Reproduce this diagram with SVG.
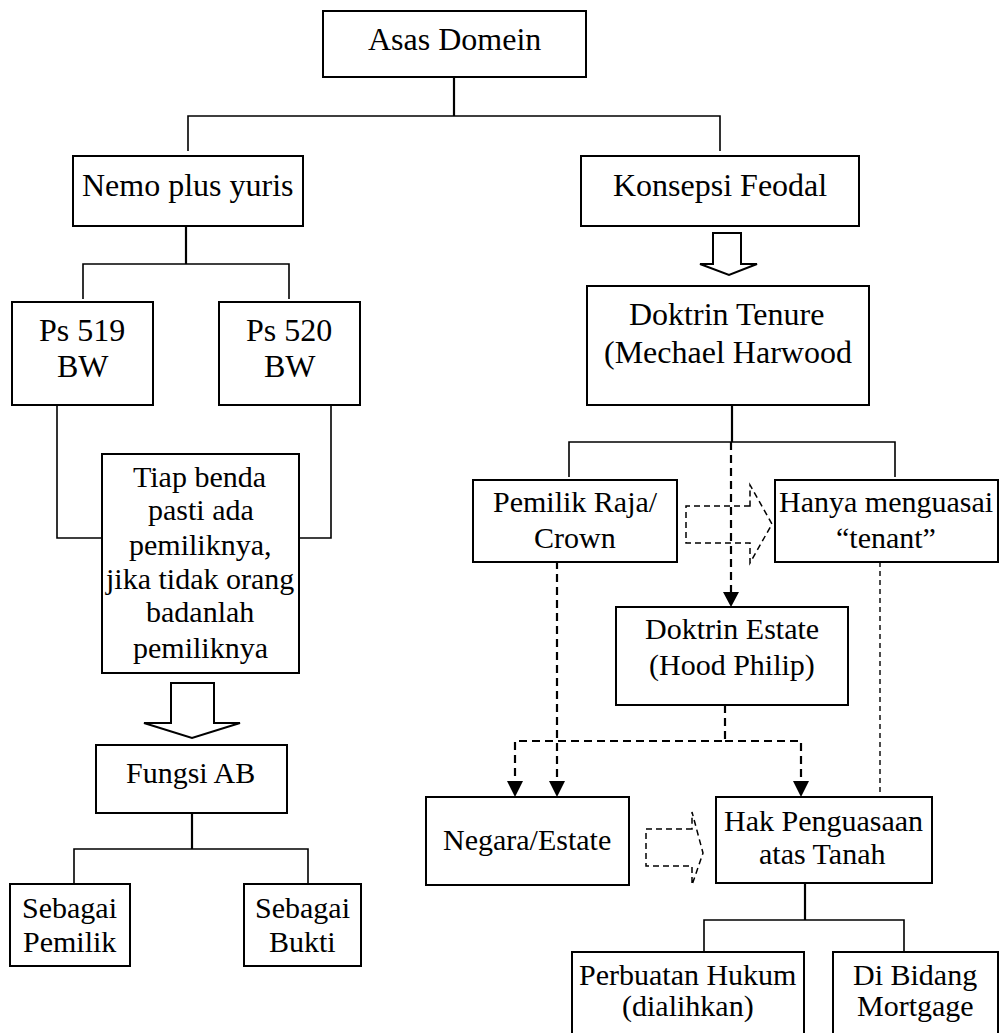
<svg xmlns="http://www.w3.org/2000/svg" width="999" height="1033" viewBox="0 0 999 1033">
<rect width="999" height="1033" fill="#fff"/>
<g id="connectors" fill="none" stroke="#000">
<g stroke-width="2.2">
<path d="M454 77V116"/>
<path d="M186 226V264"/>
<path d="M192 813V849"/>
<path d="M732 405V442"/>
<path d="M805 883V920"/>
</g>
<g stroke-width="1.6">
<path d="M188 151V116H720V151"/>
<path d="M83 299V264H289V299"/>
<path d="M57 405V538H102"/>
<path d="M331 405V538H299"/>
<path d="M74 884V849H308V884"/>
<path d="M569 477V442H895V477"/>
<path d="M704 951V920H904V951"/>
</g>
<g fill="#fff" stroke-width="2">
<path d="M171 683H214V723H240L192 738L144 723H171Z"/>
<path d="M713 233H741V264H757L729 275L700 264H713Z"/>
</g>
<g stroke-width="2.2" stroke-dasharray="8 5">
<path d="M731 442V594"/>
<path d="M557 522V782"/>
<path d="M725 705V741H515V782"/>
<path d="M725 741H801V782"/>
</g>
<g fill="#000" stroke="none">
<path d="M723 592H739L731 607Z"/>
<path d="M549 781H565L557 797Z"/>
<path d="M507 781H523L515 797Z"/>
<path d="M793 781H809L801 797Z"/>
</g>
<path stroke-width="1.4" stroke-dasharray="5 4" d="M880 562V797"/>
<g stroke-width="1.5" stroke-dasharray="6 4">
<path d="M750 506H686V543H750V563L772 524L750 485Z"/>
<path d="M692 829H646V866H692V885L703 853L692 812Z"/>
</g>
</g>
<g id="boxes" fill="#fff" stroke="#000" stroke-width="2">
<rect x="323" y="11" width="263" height="66"/>
<rect x="73" y="156" width="230" height="70"/>
<rect x="581" y="156" width="278" height="70"/>
<rect x="12" y="302" width="141" height="103"/>
<rect x="219" y="302" width="141" height="103"/>
<rect x="587" y="286" width="282" height="119"/>
<rect x="102" y="454" width="197" height="219"/>
<rect x="473" y="480" width="204" height="82"/>
<rect x="775" y="480" width="223" height="82"/>
<rect x="616" y="607" width="232" height="98"/>
<rect x="96" y="745" width="191" height="68"/>
<rect x="10" y="884" width="120" height="82"/>
<rect x="244" y="884" width="117" height="82"/>
<rect x="426" y="797" width="203" height="88"/>
<rect x="716" y="797" width="216" height="86"/>
<rect x="572" y="952" width="232" height="90"/>
<rect x="833" y="952" width="165" height="90"/>
</g>
<g id="labels-large" font-size="32" fill="#000">
<g id="asas-domein"><text font-family="Liberation Serif" x="368" y="50">Asas Domein</text></g>
<g id="nemo"><text font-family="Liberation Serif" x="82" y="196">Nemo plus yuris</text></g>
<g id="konsepsi"><text font-family="Liberation Serif" x="613" y="196">Konsepsi Feodal</text></g>
<g id="ps519"><text font-family="Liberation Serif" x="39" y="341">Ps 519</text><text font-family="Liberation Serif" x="57" y="377">BW</text></g>
<g id="ps520"><text font-family="Liberation Serif" x="246" y="341">Ps 520</text><text font-family="Liberation Serif" x="264" y="377">BW</text></g>
<g id="tenure"><text font-family="Liberation Serif" x="629" y="325">Doktrin Tenure</text><text font-family="Liberation Serif" x="604" y="363">(Mechael Harwood</text></g>
</g>
<g id="labels" font-size="30" fill="#000">
<g id="tiap">
<text font-family="Liberation Serif" x="133" y="487">Tiap benda</text>
<text font-family="Liberation Serif" x="148" y="520">pasti ada</text>
<text font-family="Liberation Serif" x="129" y="555">pemiliknya,</text>
<text font-family="Liberation Serif" x="106" y="589">jika tidak orang</text>
<text font-family="Liberation Serif" x="146" y="622">badanlah</text>
<text font-family="Liberation Serif" x="133" y="658">pemiliknya</text></g>
<g id="pemilik-raja"><text font-family="Liberation Serif" x="493" y="512">Pemilik Raja/</text><text font-family="Liberation Serif" x="534" y="548">Crown</text></g>
<g id="hanya"><text font-family="Liberation Serif" x="779" y="512">Hanya menguasai</text><text font-family="Liberation Serif" x="836" y="548">“tenant”</text></g>
<g id="estate"><text font-family="Liberation Serif" x="645" y="639">Doktrin Estate</text><text font-family="Liberation Serif" x="649" y="675">(Hood Philip)</text></g>
<g id="fungsi"><text font-family="Liberation Serif" x="126" y="783">Fungsi AB</text></g>
<g id="sebagai-pemilik"><text font-family="Liberation Serif" x="22" y="918">Sebagai</text><text font-family="Liberation Serif" x="23" y="952">Pemilik</text></g>
<g id="sebagai-bukti"><text font-family="Liberation Serif" x="255" y="918">Sebagai</text><text font-family="Liberation Serif" x="269" y="952">Bukti</text></g>
<g id="negara"><text font-family="Liberation Serif" x="443" y="850">Negara/Estate</text></g>
<g id="hak"><text font-family="Liberation Serif" x="724" y="831">Hak Penguasaan</text><text font-family="Liberation Serif" x="759" y="864">atas Tanah</text></g>
<g id="perbuatan"><text font-family="Liberation Serif" x="579" y="985">Perbuatan Hukum</text><text font-family="Liberation Serif" x="622" y="1016">(dialihkan)</text></g>
<g id="bidang"><text font-family="Liberation Serif" x="853" y="985">Di Bidang</text><text font-family="Liberation Serif" x="857" y="1016">Mortgage</text></g>
</g>
</svg>
